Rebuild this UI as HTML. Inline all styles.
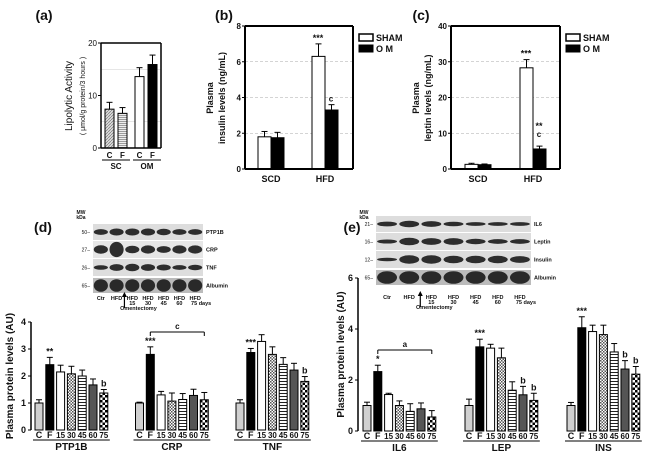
<!DOCTYPE html>
<html><head><meta charset="utf-8"><style>
body{margin:0;background:#fff}
svg{display:block;font-family:"Liberation Sans",Arial,sans-serif}
.b{font-weight:bold}
</style></head><body>
<svg id="s" width="660" height="453" viewBox="0 0 660 453">
<defs>
<pattern id="pDiag" width="3" height="3" patternUnits="userSpaceOnUse"><rect width="3" height="3" fill="#ddd"/><path d="M0,3 L3,0" stroke="#777" stroke-width="0.7"/></pattern>
<pattern id="pHorizA" width="3" height="2" patternUnits="userSpaceOnUse"><rect width="3" height="2" fill="#eee"/><rect y="1" width="3" height="0.8" fill="#888"/></pattern>
<pattern id="pCross" width="3" height="3" patternUnits="userSpaceOnUse"><rect width="3" height="3" fill="#fff"/><rect width="1.5" height="1.5" fill="#555"/><rect x="1.5" y="1.5" width="1.5" height="1.5" fill="#555"/></pattern>
<pattern id="pHoriz" width="4" height="3" patternUnits="userSpaceOnUse"><rect width="4" height="3" fill="#fff"/><rect width="4" height="1" fill="#222"/></pattern>
<pattern id="pCheck" width="5" height="5" patternUnits="userSpaceOnUse"><rect width="5" height="5" fill="#fff"/><rect width="2.5" height="2.5" fill="#000"/><rect x="2.5" y="2.5" width="2.5" height="2.5" fill="#000"/></pattern>
</defs>
<g id="root"></g>
</svg>
<script>
// ---- data ----
const aCats = ["C","F","C","F"];
const aVals = [7.4, 6.6, 13.6, 15.9];
const aErrs = [1.3, 1.1, 1.7, 1.8];
const aTicks = [0, 10, 20];

const bGroups = ["SCD","HFD"];
const bSham = [1.8, 6.3];
const bShamErr = [0.3, 0.7];
const bOm = [1.75, 3.3];
const bOmErr = [0.3, 0.3];
const bTicks = [0, 2, 4, 6, 8];

const cGroups = ["SCD","HFD"];
const cSham = [1.3, 28.3];
const cShamErr = [0.3, 2.3];
const cOm = [1.2, 5.6];
const cOmErr = [0.2, 0.8];
const cTicks = [0, 10, 20, 30, 40];

const timeCats = ["C","F","15","30","45","60","75"];
const dGroups = ["PTP1B","CRP","TNF"];
const dPTP1B = [1.0, 2.42, 2.15, 2.08, 2.0, 1.67, 1.37];
const dPTP1BErr = [0.12, 0.27, 0.25, 0.28, 0.22, 0.22, 0.13];
const dCRP = [1.0, 2.8, 1.3, 1.07, 1.13, 1.28, 1.12];
const dCRPErr = [0.03, 0.28, 0.13, 0.3, 0.22, 0.23, 0.27];
const dTNF = [1.0, 2.87, 3.28, 2.8, 2.43, 2.22, 1.8];
const dTNFErr = [0.12, 0.15, 0.25, 0.28, 0.25, 0.25, 0.18];
const dTicks = [0, 1, 2, 3, 4];

const eGroups = ["IL6","LEP","INS"];
const eIL6 = [1.0, 2.33, 1.43, 1.0, 0.77, 0.87, 0.55];
const eIL6Err = [0.13, 0.25, 0.05, 0.18, 0.3, 0.23, 0.25];
const eLEP = [1.0, 3.3, 3.25, 2.87, 1.6, 1.42, 1.2];
const eLEPErr = [0.25, 0.3, 0.15, 0.38, 0.33, 0.33, 0.28];
const eINS = [1.0, 4.05, 3.9, 3.78, 3.1, 2.43, 2.23];
const eINSErr = [0.12, 0.43, 0.25, 0.37, 0.33, 0.33, 0.3];
const eTicks = [0, 2, 4, 6];

// ---- helpers ----
const NS = "http://www.w3.org/2000/svg";
const root = document.getElementById("root");
function mk(tag, attrs, parent, txt){
  const e = document.createElementNS(NS, tag);
  for (const k in attrs) e.setAttribute(k, attrs[k]);
  if (txt !== undefined) e.textContent = txt;
  (parent || root).appendChild(e);
  return e;
}
function txt(x,y,s,size,opt){
  opt = opt||{};
  const t = mk("text",{x:x,y:y,"font-size":size,"text-anchor":opt.anchor||"middle","font-weight":opt.bold?"bold":"normal",fill:"#111"},opt.parent,s);
  if(opt.rot) t.setAttribute("transform","rotate(-90 "+x+" "+y+")");
  
  
  return t;
}
function line(x1,y1,x2,y2,w,opt){
  opt=opt||{};
  const l = mk("line",{x1:x1,y1:y1,x2:x2,y2:y2,stroke:opt.color||"#000","stroke-width":w||1});
  if(opt.dash) l.setAttribute("stroke-dasharray",opt.dash);
  
  
  return l;
}
function bar(x,w,yTop,yBase,fill,name){
  const r = mk("rect",{x:x,y:yTop,width:w,height:Math.max(0,yBase-yTop),fill:fill,stroke:"#000","stroke-width":1});
  
  
  return r;
}
function err(cx,yv,ye,name){
  line(cx,yv,cx,ye,1,{name:name});
  line(cx-3,ye,cx+3,ye,1,{name:name+'-cap'});
}

// ---- panel (a) ----
(function(){
  const x0=101,x1=161,yB=148,yT=43,max=20;
  const y=v=>yB-(v/max)*(yB-yT);
  txt(44,20,"(a)",14,{bold:true,name:"panel-a-label"});
  [5,15].forEach(v=>line(x0,y(v),x1,y(v),0.5,{color:"#ccc",name:"grid-a"}));
  const xs=[105,118,135,148], fills=["url(#pDiag)","url(#pHorizA)","#fff","#000"];
  aVals.forEach((v,i)=>{
    bar(xs[i],9,y(v),yB,fills[i],"bar-a-"+i);
    err(xs[i]+4.5,y(v),y(v+aErrs[i]),"error-a-"+i);
    txt(xs[i]+4.5,158,aCats[i],8,{bold:true,name:"x-label-a"});
  });
  line(x0,yT,x1,yT,1.5,{name:"frame-a"});line(x1,yT,x1,yB,1.5,{name:"frame-a"});
  line(x0,yT,x0,yB,1.5,{name:"y-axis-a"});line(x0,yB,x1,yB,1.5,{name:"x-axis-a"});
  aTicks.forEach(v=>{line(x0-3,y(v),x0,y(v),1,{name:"tick-a"});txt(x0-4,y(v)+3,String(v),8,{anchor:"end",name:"tick-label-a"});});
  line(102,160,130,160,1,{name:"group-line-sc"});line(133,160,161,160,1,{name:"group-line-om"});
  txt(116,169,"SC",8,{bold:true,name:"group-label-sc"});txt(147,169,"OM",8,{bold:true,name:"group-label-om"});
  txt(72,96,"Lipolytic Activity",10,{rot:true,name:"y-axis-title-a"});
  txt(85,96,"( μmol/g protein/3 hours )",7,{rot:true,name:"y-axis-subtitle-a"});
})();

// ---- paired panels (b),(c) ----
function paired(o){
  const {x0,x1,yT,yB,max,ticks,sham,shamErr,om,omErr,groups,gx,id}=o;
  const y=v=>yB-(v/max)*(yB-yT);
  txt(o.lx,20,o.label,14,{bold:true,name:"panel-"+id+"-label"});
  ticks.slice(1,-1).forEach(v=>line(x0,y(v),x1,y(v),0.6,{color:"#aaa",dash:"3,2",name:"grid-"+id}));
  groups.forEach((g,i)=>{
    const cx=gx[i];
    bar(cx-13,13,y(sham[i]),yB,"#fff","bar-"+id+"-sham-"+g);
    err(cx-6.5,y(sham[i]),y(sham[i]+shamErr[i]),"error-"+id+"-sham");
    bar(cx,13,y(om[i]),yB,"#000","bar-"+id+"-om-"+g);
    err(cx+6.5,y(om[i]),y(om[i]+omErr[i]),"error-"+id+"-om");
    txt(cx,182,g,9,{bold:true,name:"x-label-"+id});
  });
  line(x0,yT,x1,yT,2,{name:"frame-"+id});line(x1,yT,x1,yB,2,{name:"frame-"+id});
  line(x0,yT,x0,yB,2,{name:"y-axis-"+id});line(x0,yB,x1,yB,2,{name:"x-axis-"+id});
  ticks.forEach(v=>{line(x0-3,y(v),x0,y(v),1,{name:"tick-"+id});txt(x0-4,y(v)+3,String(v),8,{anchor:"end",bold:true,name:"tick-label-"+id});});
  txt(x0-32,98,"Plasma",9,{rot:true,bold:true,name:"y-axis-title-"+id});
  txt(x0-20,98,o.ylab,9,{rot:true,bold:true,name:"y-axis-subtitle-"+id});
  // legend
  const lx=x1+6;
  const r1=mk("rect",{x:lx,y:34,width:14,height:7,fill:"#fff",stroke:"#000","stroke-width":1.5});
  
  const r2=mk("rect",{x:lx,y:45,width:14,height:7,fill:"#000",stroke:"#000"});
  
  txt(lx+17,41,"SHAM",9,{anchor:"start",bold:true,name:"legend-entry-sham"});
  txt(lx+17,52,"O M",9,{anchor:"start",bold:true,name:"legend-entry-om"});
  o.ann(y);
}
paired({id:"b",label:"(b)",lx:224,x0:245,x1:353,yT:26,yB:169,max:8,ticks:bTicks,sham:bSham,shamErr:bShamErr,om:bOm,omErr:bOmErr,groups:bGroups,gx:[271,325],ylab:"insulin levels (ng/mL)",
 ann:y=>{txt(318,y(bSham[1]+bShamErr[1])-3,"***",9,{bold:true,name:"sig-b"});txt(331,y(bOm[1]+bOmErr[1])-3,"c",8,{bold:true,name:"sig-b-c"});}});
paired({id:"c",label:"(c)",lx:421,x0:451,x1:560,yT:26,yB:169,max:40,ticks:cTicks,sham:cSham,shamErr:cShamErr,om:cOm,omErr:cOmErr,groups:cGroups,gx:[478,533],ylab:"leptin levels (ng/mL)",
 ann:y=>{txt(526,y(cSham[1]+cShamErr[1])-3,"***",9,{bold:true,name:"sig-c"});txt(539,y(cOm[1]+cOmErr[1])-9,"c",8,{bold:true,name:"sig-c-c"});txt(539,y(cOm[1]+cOmErr[1])-17,"**",9,{bold:true,name:"sig-c-om"});}});

// ---- blots ----
function blot(o){
  txt(o.lab[0],o.lab[1],o.label,14,{bold:true,name:"panel-"+o.id+"-label"});
  txt(o.x-12,214,"MW",5,{bold:true,name:"mw-label"});txt(o.x-12,219,"kDa",5,{bold:true,name:"kda-label"});
  o.rows.forEach((r,i)=>{
    const rr=mk("rect",{x:o.x,y:r.y,width:o.w,height:r.h,fill:r.bg});
    
    const lw=o.w/7;
    for(let k=0;k<7;k++){
      const e=mk("ellipse",{cx:o.x+lw*(k+0.5),cy:r.y+r.h/2,rx:lw*0.45,ry:r.h*r.int[k],fill:"#1a1a1a",opacity:0.9});
      
    }
    txt(o.x-3,r.y+r.h/2+2,r.mw+"–",5,{anchor:"end",name:"mw-marker"});
    txt(o.x+o.w+3,r.y+r.h/2+2,r.name,5.5,{anchor:"start",bold:true,name:"blot-label"});
  });
  const lw=o.w/7, ly=o.ly;
  txt(o.x+lw*0.5,ly,"Ctr",5.5,{bold:true,name:"lane-label"});
  txt(o.x+lw*1.5,ly,"HFD",5.5,{bold:true,name:"lane-label"});
  ["15","30","45","60","75 days"].forEach((d,k)=>{
    txt(o.x+lw*(k+2.5),ly,"HFD",5.5,{bold:true,name:"lane-label"});
    txt(o.x+lw*(k+2.5)+(k==4?6:0),ly+5,d,5.5,{bold:true,name:"lane-label"});
  });
  line(o.x+lw*2,ly+8,o.x+lw*2,ly-6,1.2,{name:"omentectomy-arrow"});
  const a=mk("path",{d:`M${o.x+lw*2-2.5},${ly-3} L${o.x+lw*2},${ly-8} L${o.x+lw*2+2.5},${ly-3}Z`,fill:"#000"});
  
  txt(o.x+lw*2+14,ly+10,"Omentectomy",5.5,{bold:true,name:"omentectomy-label"});
}
blot({id:"d",label:"(d)",lab:[43,232],x:93,w:110,ly:300,rows:[
 {name:"PTP1B",mw:"50",y:224,h:16,bg:"#ddd",int:[0.18,0.22,0.22,0.22,0.2,0.18,0.18]},
 {name:"CRP",mw:"27",y:241,h:17,bg:"#e6e6e6",int:[0.25,0.45,0.22,0.24,0.2,0.24,0.24]},
 {name:"TNF",mw:"26",y:259,h:17,bg:"#ddd",int:[0.13,0.2,0.22,0.2,0.18,0.14,0.16]},
 {name:"Albumin",mw:"65",y:278,h:15,bg:"#bbb",int:[0.42,0.42,0.42,0.42,0.42,0.42,0.42]}]});
blot({id:"e",label:"(e)",lab:[352,232],x:376,w:155,ly:299,rows:[
 {name:"IL6",mw:"21",y:216,h:16,bg:"#ddd",int:[0.15,0.2,0.18,0.14,0.12,0.12,0.12]},
 {name:"Leptin",mw:"16",y:233,h:17,bg:"#ddd",int:[0.12,0.22,0.2,0.2,0.16,0.14,0.14]},
 {name:"Insulin",mw:"12",y:251,h:17,bg:"#ddd",int:[0.1,0.25,0.25,0.22,0.22,0.22,0.2]},
 {name:"Albumin",mw:"65",y:270,h:15,bg:"#bbb",int:[0.42,0.42,0.42,0.42,0.42,0.42,0.42]}]});

// ---- grouped time charts ----
const tFills=["#d0d0d0","#000","#fff","url(#pCross)","url(#pHoriz)","#555","url(#pCheck)"];
function grouped(o){
  const y=v=>o.yB-(v/o.max)*(o.yB-o.yT);
  o.sets.forEach((vals,g)=>{
    const errs=o.errs[g];
    const gx=o.gx0+g*o.gp;
    vals.forEach((v,i)=>{
      const x=gx+i*o.pitch;
      bar(x,o.bw,y(v),o.yB,tFills[i],"bar-"+o.groups[g]+"-"+timeCats[i]);
      err(x+o.bw/2,y(v),y(v+errs[i]),"error-"+o.groups[g]);
      txt(x+o.bw/2,o.yB+8,timeCats[i],i<2?9:8,{bold:true,name:"x-label-"+o.id});
    });
    line(gx-2,o.yB+10,gx+6*o.pitch+o.bw+2,o.yB+10,1,{name:"group-line"});
    txt(gx+3*o.pitch+o.bw/2,o.yB+20,o.groups[g],10,{bold:true,name:"group-label-"+o.groups[g]});
  });
  line(o.x0,o.yT,o.x0,o.yB,1.5,{name:"y-axis-"+o.id});
  o.ticks.forEach(v=>{line(o.x0-3,y(v),o.x0,y(v),1,{name:"tick-"+o.id});txt(o.x0-5,y(v)+3,String(v),9,{anchor:"end",bold:true,name:"tick-label-"+o.id});});
  txt(o.ylx,(o.yT+o.yB)/2,o.ylab,10,{rot:true,bold:true,name:"y-axis-title-"+o.id});
  o.ann(y);
}
grouped({id:"d",x0:31,yT:322,yB:430,max:4,ticks:dTicks,gx0:35,gp:100.5,pitch:10.8,bw:8,
 sets:[dPTP1B,dCRP,dTNF],errs:[dPTP1BErr,dCRPErr,dTNFErr],groups:dGroups,ylx:13,ylab:"Plasma protein levels (AU)",
 ann:y=>{
  const sig=(g,i,s,vals,errs,sz)=>txt(35+g*100.5+i*10.8+4,y(vals[i]+errs[i])-3,s,sz||9,{bold:true,name:"sig-d"});
  sig(0,1,"**",dPTP1B,dPTP1BErr);sig(0,6,"b",dPTP1B,dPTP1BErr);
  sig(1,1,"***",dCRP,dCRPErr);sig(2,1,"***",dTNF,dTNFErr);sig(2,6,"b",dTNF,dTNFErr);
  const bx1=35+100.5+10.8+4,bx2=35+100.5+6*10.8+4,by=332;
  line(bx1,by,bx2,by,1,{name:"bracket-crp"});line(bx1,by,bx1,by+4,1,{name:"bracket-crp"});line(bx2,by,bx2,by+4,1,{name:"bracket-crp"});
  txt((bx1+bx2)/2,by-3,"c",8,{bold:true,name:"sig-d-bracket"});
 }});
grouped({id:"e",x0:358,yT:278,yB:431,max:6,ticks:eTicks,gx0:363,gp:102,pitch:10.8,bw:8,
 sets:[eIL6,eLEP,eINS],errs:[eIL6Err,eLEPErr,eINSErr],groups:eGroups,ylx:344,ylab:"Plasma  protein levels (AU)",
 ann:y=>{
  const sig=(g,i,s,vals,errs)=>txt(363+g*102+i*10.8+4,y(vals[i]+errs[i])-3,s,9,{bold:true,name:"sig-e"});
  sig(0,1,"*",eIL6,eIL6Err);sig(1,1,"***",eLEP,eLEPErr);sig(1,5,"b",eLEP,eLEPErr);sig(1,6,"b",eLEP,eLEPErr);
  sig(2,1,"***",eINS,eINSErr);sig(2,5,"b",eINS,eINSErr);sig(2,6,"b",eINS,eINSErr);
  const bx1=363+10.8+4,bx2=363+6*10.8+4,by=350;
  line(bx1,by,bx2,by,1,{name:"bracket-il6"});line(bx1,by,bx1,by+4,1,{name:"bracket-il6"});line(bx2,by,bx2,by+4,1,{name:"bracket-il6"});
  txt((bx1+bx2)/2,by-3,"a",8,{bold:true,name:"sig-e-bracket"});
 }});
</script>
</body></html>
